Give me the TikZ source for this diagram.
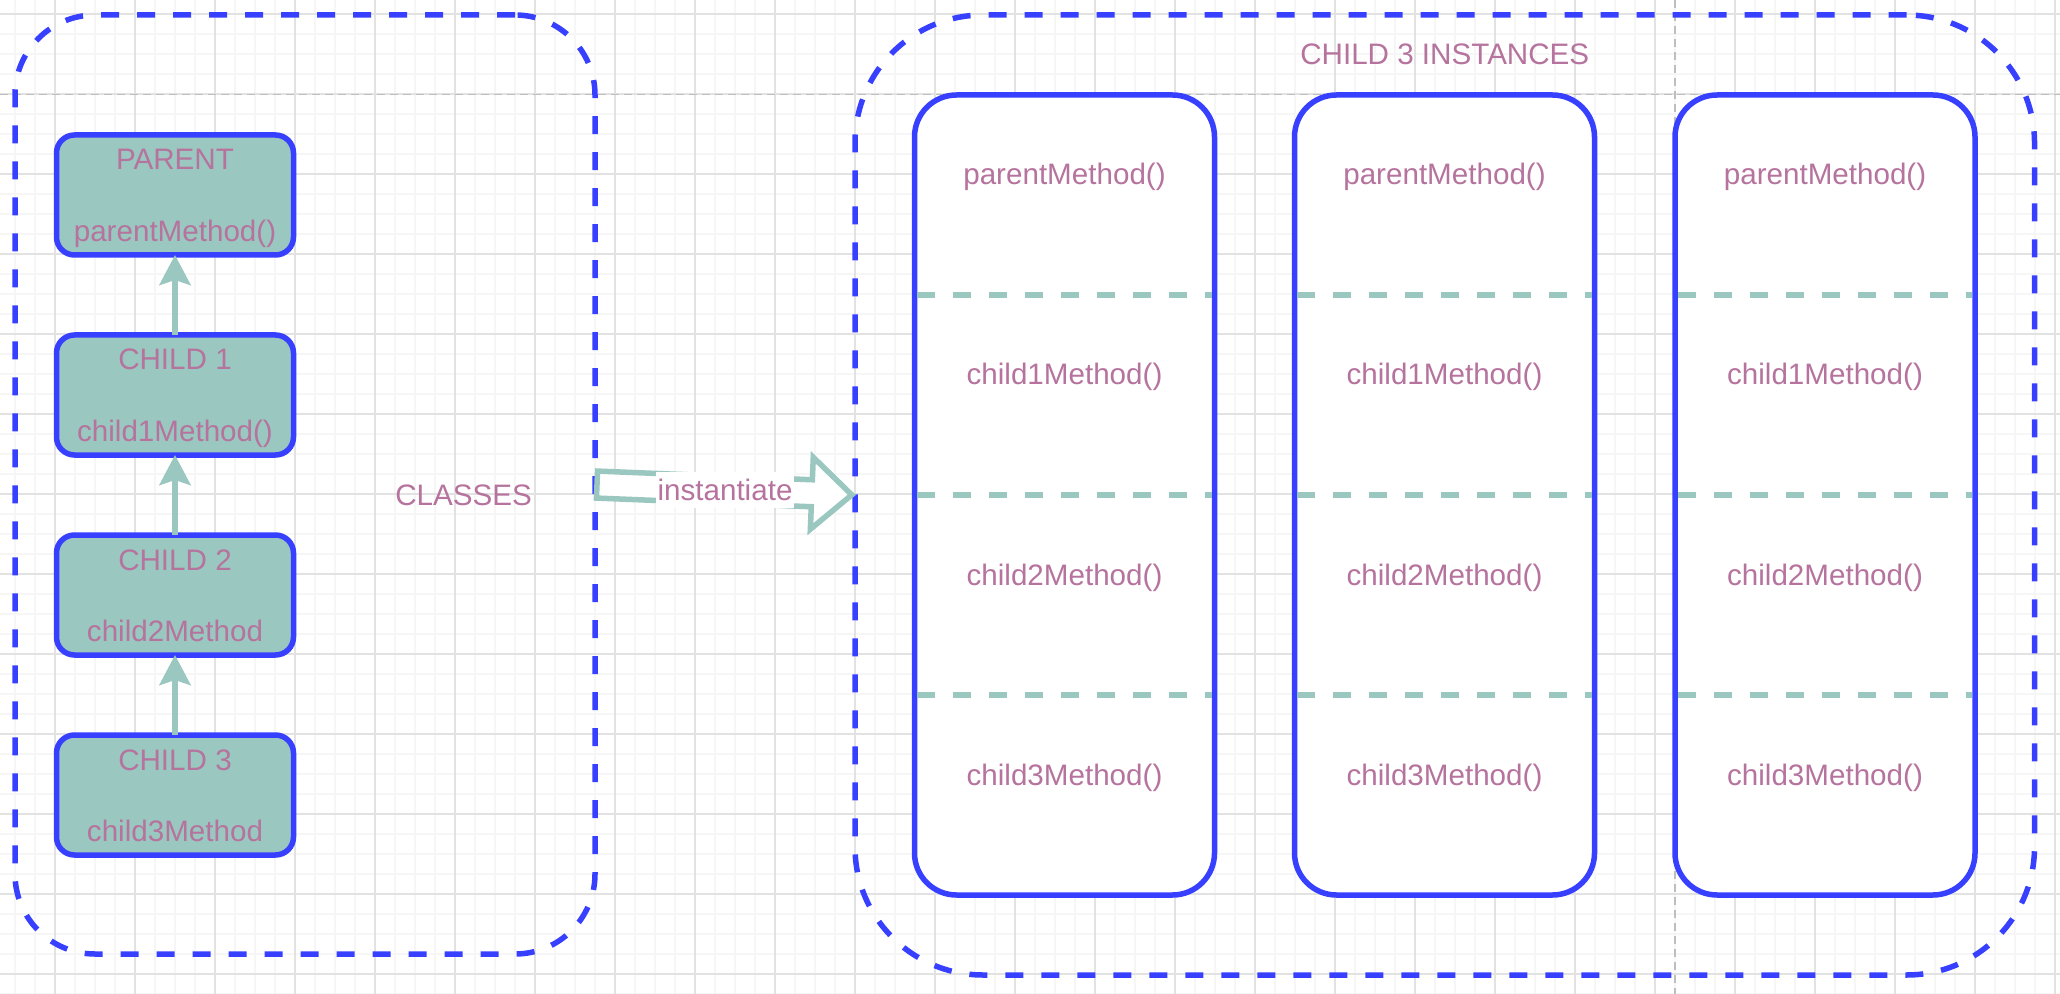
\documentclass[tikz,border=0pt]{standalone}
\usepackage{fontspec}
\setmainfont{Liberation Sans}
\usetikzlibrary{calc,arrows.meta}
\definecolor{blu}{RGB}{56,64,255}
\definecolor{tealc}{RGB}{154,199,191}
\definecolor{mauve}{RGB}{181,115,157}
\definecolor{gmaj}{RGB}{226,226,226}
\definecolor{gmin}{RGB}{246,246,246}
\definecolor{guide}{RGB}{190,190,190}
\begin{document}
\begin{tikzpicture}[x=0.5pt,y=-0.5pt,
  container/.style={draw=blu, line width=2.75pt, dash pattern=on 9pt off 9pt, inner sep=0, outer sep=0},
  classbox/.style={draw=blu, fill=tealc, line width=2.75pt, rounded corners=9pt, minimum width=118.5pt, minimum height=60pt, inner sep=0, outer sep=0},
  instbox/.style={draw=blu, fill=white, line width=2.75pt, rounded corners=21pt, minimum width=150pt, minimum height=400pt, inner sep=0, outer sep=0},
  txt/.style={text=mauve, font=\fontsize{14.8pt}{17pt}\selectfont, inner sep=0},
  inherit/.style={draw=tealc, line width=2.8pt, -{Stealth[length=15pt,width=15.5pt,inset=2.5pt]}},
  sepline/.style={draw=tealc, line width=2.75pt, dash pattern=on 9pt off 9pt},
  flexarrow/.style={draw=tealc, fill=white, line width=2.75pt, line join=miter},
  minorgrid/.style={draw=gmin, line width=0.6pt},
  majorgrid/.style={draw=gmaj, line width=0.6pt},
  guideline/.style={draw=guide, line width=0.9pt, dash pattern=on 4pt off 2.5pt}
]
\useasboundingbox (0,0) rectangle (2060,994);
\fill[white] (0,0) rectangle (2060,994);
% grid
\foreach \i in {0,...,102} \draw[minorgrid] ({15+20*\i},0) -- ({15+20*\i},994);
\foreach \j in {0,...,49} \draw[minorgrid] (0,{14+20*\j}) -- (2060,{14+20*\j});
\foreach \i in {0,...,25} \draw[majorgrid] ({55+80*\i},0) -- ({55+80*\i},994);
\foreach \j in {0,...,12} \draw[majorgrid] (0,{14+80*\j}) -- (2060,{14+80*\j});
% guide lines
\draw[guideline] (0,94.5) -- (2060,94.5);
\draw[guideline] (1675,0) -- (1675,994);
% containers
\node[container, rounded corners=40pt, minimum width=290pt, minimum height=469.5pt] (L) at (305,484.5) {};
\node[container, rounded corners=64pt, minimum width=589.75pt, minimum height=480pt] (R) at (1444.75,495) {};
% class boxes
\node[classbox] (p) at (175,195) {};
\node[classbox] (c1) at (175,395) {};
\node[classbox] (c2) at (175,595) {};
\node[classbox] (c3) at (175,795) {};
\node[txt, anchor=base] (pT) at ($(p.north)+(0,35)$) {PARENT};
\node[txt, anchor=base] (pM) at ($(p.north)+(0,106.7)$) {parentMethod()};
\node[txt, anchor=base] (c1T) at ($(c1.north)+(0,35)$) {CHILD 1};
\node[txt, anchor=base] (c1M) at ($(c1.north)+(0,106.7)$) {child1Method()};
\node[txt, anchor=base] (c2T) at ($(c2.north)+(0,35)$) {CHILD 2};
\node[txt, anchor=base] (c2M) at ($(c2.north)+(0,106.7)$) {child2Method};
\node[txt, anchor=base] (c3T) at ($(c3.north)+(0,35)$) {CHILD 3};
\node[txt, anchor=base] (c3M) at ($(c3.north)+(0,106.7)$) {child3Method};
\draw[inherit] (c1.north) -- (p.south);
\draw[inherit] (c2.north) -- (c1.south);
\draw[inherit] (c3.north) -- (c2.south);
\node[txt, anchor=base] (cls) at (463.6,505.5) {CLASSES};
% instance boxes
\node[instbox] (b1) at (1064.5,495) {};
\node[instbox] (b2) at (1444.5,495) {};
\node[instbox] (b3) at (1825,495) {};
\foreach \b in {b1,b2,b3}{
  \foreach \k in {200,400,600}{
    \draw[sepline] ($(\b.north west)+(2.75,\k)$) -- ($(\b.north east)+(-2.75,\k)$);
  }
  \node[txt, anchor=base] (\b-m0) at ($(\b.north)+(0,90)$) {parentMethod()};
  \node[txt, anchor=base] (\b-m1) at ($(\b.north)+(0,290)$) {child1Method()};
  \node[txt, anchor=base] (\b-m2) at ($(\b.north)+(0,490)$) {child2Method()};
  \node[txt, anchor=base] (\b-m3) at ($(\b.north)+(0,690)$) {child3Method()};
}
\node[txt, anchor=base] (title) at ($(R.north)+(0,50)$) {CHILD 3 INSTANCES};
% instantiate arrow
\coordinate (a0) at ($(L.east)!1pt!(R.west)$);
\coordinate (a1) at ($(L.east)!108.5pt!(R.west)$);
\coordinate (a2) at ($(L.east)!128.5pt!(R.west)$);
\draw[flexarrow] ($(a0)!6.75pt!90:(R.west)$) -- ($(a1)!6.75pt!90:(R.west)$) -- ($(a1)!18pt!90:(R.west)$) -- (a2) -- ($(a1)!18pt!-90:(R.west)$) -- ($(a1)!6.75pt!-90:(R.west)$) -- ($(a0)!6.75pt!-90:(R.west)$) -- cycle;
\node[txt, fill=white, inner xsep=0.8pt, inner ysep=3.5pt] (inst) at ($(L.east)!0.5!(R.west)$) {instantiate};
\end{tikzpicture}
\end{document}
